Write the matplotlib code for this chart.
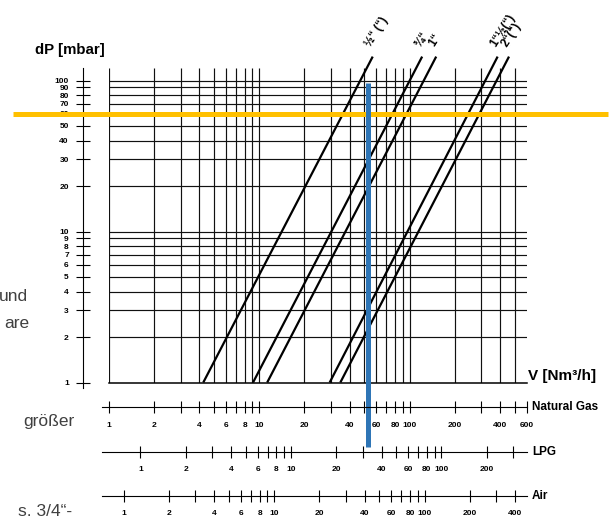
import numpy as np
import matplotlib.pyplot as plt
from matplotlib.ticker import NullLocator

plt.rcParams['font.family'] = ['Liberation Sans', 'DejaVu Sans']

W, H, DPI = 613, 518, 100

# pressure drop curves (straight lines on log-log)
sizes = ['½“ (“)', '¾“', '1“', '1“½(“)', '2“(“)']
flow_at_dp_low = [4.25, 9.1, 11.3, 29.4, 34.6]     # Nm³/h at dP = 1 mbar
flow_at_dp_high = [56.8, 121, 150, 384, 457]       # Nm³/h at dP = 144 mbar
dp_low, dp_high = 1, 144

dp_ticks = [1, 2, 3, 4, 5, 6, 7, 8, 9, 10, 20, 30, 40, 50, 60, 70, 80, 90, 100]
v_grid = [1, 2, 3, 4, 5, 6, 7, 8, 9, 10, 20, 30, 40, 50, 60, 70, 80, 90, 100,
          200, 300, 400, 500]

# secondary flow scales
ng_ticks = v_grid + [600]
ng_labels = [1, 2, 4, 6, 8, 10, 20, 40, 60, 80, 100, 200, 400, 600]
lpg_ticks = [1, 2, 3, 4, 5, 6, 7, 8, 9, 10, 20, 30, 40, 50, 60, 70, 80, 90, 100,
             200, 300]
lpg_labels = [1, 2, 4, 6, 8, 10, 20, 40, 60, 80, 100, 200]
air_ticks = [1, 2, 3, 4, 5, 6, 7, 8, 9, 10, 20, 30, 40, 50, 60, 70, 80, 90, 100,
             200, 300, 400]
air_labels = [1, 2, 4, 6, 8, 10, 20, 40, 60, 80, 100, 200, 400]
lpg_per_ng = 0.615
air_per_ng = 0.795

# highlighted reading
marked_flow = 53     # Nm³/h natural gas
marked_dp = 60       # mbar

blue = '#2E75B6'
orange = '#FFC000'
ink = '#111111'

fig = plt.figure(figsize=(W / DPI, H / DPI), dpi=DPI)


def px_box(x0, y0, x1, y1):
    # pixel box (top-left origin) -> figure fraction rect
    return [x0 / W, 1 - y1 / H, (x1 - x0) / W, (y1 - y0) / H]


# main chart
x0, x1, ytop, ybot = 108.7, 526.8, 68, 382.5
ax = fig.add_axes(px_box(x0, ytop, x1, ybot))
ax.set_xscale('log')
ax.set_yscale('log')
ax.set_xlim(1, 600)
ax.set_ylim(1, 121)
ax.set_facecolor('none')

ax.vlines(v_grid, 1, 121, color=ink, lw=0.85, zorder=1)
ax.hlines(dp_ticks[1:], 1, 600, color=ink, lw=0.85, zorder=1)

for s in ['top', 'right']:
    ax.spines[s].set_visible(False)
ax.spines['bottom'].set_linewidth(1.1)
ax.spines['left'].set_position(('outward', (x0 - 83) * 72 / DPI))
ax.spines['left'].set_bounds(0.92, 121)
ax.spines['left'].set_linewidth(0.8)

ax.xaxis.set_minor_locator(NullLocator())
ax.yaxis.set_minor_locator(NullLocator())
ax.tick_params(axis='x', which='both', bottom=False, labelbottom=False)
ax.set_yticks(dp_ticks)
ax.set_yticklabels([str(t) for t in dp_ticks], fontsize=6, fontweight='bold')
ax.tick_params(axis='y', direction='inout', length=9.4, width=0.8, pad=5.5)

for name, lo, hi in zip(sizes, flow_at_dp_low, flow_at_dp_high):
    ax.plot([lo, hi], [dp_low, dp_high], color='black', lw=1.6,
            clip_on=False, zorder=3, solid_capstyle='butt')
    ax.annotate(name, (hi, dp_high), xytext=(-3.5, 8), textcoords='offset points',
                rotation=58, rotation_mode='anchor', ha='left', va='center',
                fontsize=8.5, fontweight='bold', annotation_clip=False)

ax.plot([0.231, 2069], [marked_dp, marked_dp], color=orange, lw=3.6,
        clip_on=False, zorder=4, solid_capstyle='butt')
ax.plot([marked_flow, marked_flow], [0.374, 96], color=blue, lw=3.6,
        clip_on=False, zorder=6, solid_capstyle='butt')

fig.text(35 / W, 1 - 50 / H, 'dP [mbar]', fontsize=10.8, fontweight='bold',
         ha='left', va='center')
fig.text(528 / W, 1 - 376 / H, 'V [Nm³/h]', fontsize=11, fontweight='bold',
         ha='left', va='center')

# bottom scales: one axes per gas, units of y are pixels
scales = [
    ('Natural Gas', 407.3, 1.0, ng_ticks, ng_labels),
    ('LPG', 451.7, lpg_per_ng, lpg_ticks, lpg_labels),
    ('Air', 495.7, air_per_ng, air_ticks, air_labels),
]
for name, yc, factor, ticks, labels in scales:
    sax = fig.add_axes(px_box(x0, yc - 10, x1, yc + 10))
    sax.set_xscale('log')
    sax.set_xlim(factor * 1, factor * 600)
    sax.set_ylim(-10, 10)
    sax.axis('off')
    sax.plot([-0.015, 1.0], [0.5, 0.5], color='black', lw=0.8,
             transform=sax.transAxes, clip_on=False)
    sax.vlines(ticks, -6, 6, color='black', lw=0.8, clip_on=False)
    for v in labels:
        sax.text(v, -18, str(v), fontsize=6, fontweight='bold',
                 ha='center', va='center', clip_on=False)
    sax.text((532 - x0) / (x1 - x0), 0.5, name, transform=sax.transAxes,
             fontsize=8.5, fontweight='bold', ha='left', va='center')

# slide text fragments at the left edge
grey_txt = '#404040'
fig.text(28 / W, 1 - 301 / H, 'und', fontsize=12.5, color=grey_txt,
         ha='right', va='baseline')
fig.text(29 / W, 1 - 328 / H, 'are', fontsize=12.5, color=grey_txt,
         ha='right', va='baseline')
fig.text(75 / W, 1 - 426 / H, 'größer', fontsize=12.5, color=grey_txt,
         ha='right', va='baseline')
fig.text(72 / W, 1 - 516 / H, 's. 3/4“-', fontsize=12.5, color=grey_txt,
         ha='right', va='baseline')

fig.savefig('out.png', dpi=DPI)
